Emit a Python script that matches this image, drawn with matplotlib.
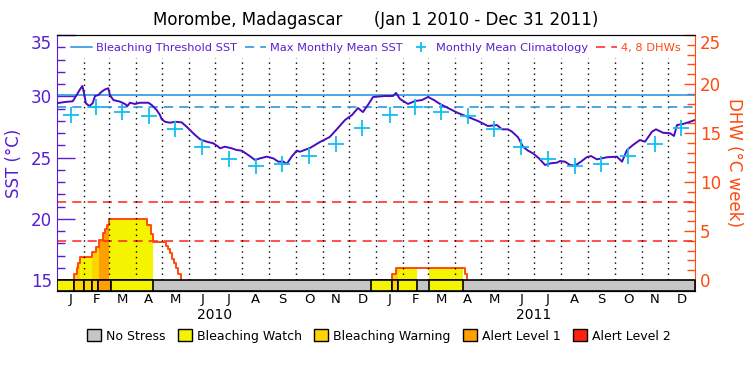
import numpy as np
import pandas as pd
import matplotlib
matplotlib.use('Agg')
import matplotlib.pyplot as plt
from matplotlib.patches import Patch
from matplotlib.transforms import blended_transform_factory

# Datos (dias desde el 1 de enero de 2010)
sst_puntos = [
    (0, 29.43), (3.4, 29.47), (9, 29.53), (18, 29.59), (22.5, 30.10), (26.3, 30.56),
    (29, 30.84), (31, 30.24), (33, 29.43), (37, 29.20), (40.8, 29.43), (43.5, 30.02),
    (47.3, 30.10), (51, 30.37), (55, 30.56), (58.7, 30.65), (60.6, 30.10), (64.5, 29.69),
    (72, 29.56), (77.8, 29.37), (80.5, 29.20), (83.5, 29.47), (89.2, 29.37), (95, 29.47),
    (104.5, 29.47), (108.3, 29.29), (114, 28.88), (117.8, 28.47), (119.8, 28.12),
    (123.6, 27.92), (129.3, 27.84), (135, 27.92), (142.6, 27.87), (148.4, 27.51),
    (154, 27.11), (158, 26.84), (163.6, 26.49), (171.3, 26.29), (178.8, 26.16),
    (184.6, 25.88), (186.5, 25.75), (192.2, 25.88), (199.9, 25.75), (205.6, 25.61),
    (211.3, 25.56), (218.9, 25.20), (226.5, 24.80), (232.3, 24.93), (240, 25.07),
    (247.5, 24.93), (253.2, 24.66), (259, 24.66), (262.8, 24.47), (268.5, 25.07),
    (274.3, 25.56), (278, 25.47), (289.5, 25.78), (301, 26.27), (312, 26.67),
    (321.5, 27.41), (329.5, 28.06), (337.5, 28.47), (344.4, 29.04), (350, 28.71),
    (355.8, 29.29), (361.6, 29.94), (375.3, 30.02), (384.4, 30.02), (387.9, 30.27),
    (392.4, 29.78), (401.6, 29.37), (409.6, 29.61), (417.6, 29.69), (424.5, 29.94),
    (431.4, 29.69), (438.2, 29.37), (447.4, 29.04), (458.8, 28.63), (470.3, 28.31),
    (481.7, 27.98), (493.1, 27.57), (503.4, 27.65), (509.2, 27.30), (516, 27.30),
    (520.6, 27.11), (527.5, 26.65), (533.2, 25.88), (538.9, 25.56), (544.6, 25.34),
    (551.5, 24.93), (558.4, 24.39), (565.2, 24.53), (572.1, 24.58), (575.5, 24.71),
    (581.2, 24.66), (587, 24.39), (592.7, 24.33), (599.5, 24.66), (606, 25.02),
    (611, 25.12), (617.8, 24.85), (629.3, 25.02), (640.7, 25.07), (646.5, 24.66),
    (652.2, 25.61), (659, 26.02), (667, 26.43), (672.8, 26.29), (680.8, 27.11),
    (685.4, 27.30), (693.4, 27.02), (701.4, 26.98), (706, 26.76), (709.4, 27.65),
    (716.2, 27.73), (724.3, 27.92), (730, 28.06),
]

clim_mensual = [28.47, 29.10, 28.71, 28.39, 27.30, 25.82, 24.85, 24.31, 24.44, 25.12, 26.10, 27.43]
mmm = 29.12
umbral = 30.12

# DHW por episodios (escalones) y nivel de estres del relleno
dhw_2010_dias = [19.8, 19.8, 22.5, 24.4, 26.7, 40.4, 45.0, 47.7, 52.2, 54.9, 57.2, 59.5, 103.0,
                 107.9, 109.8, 124.7, 127.4, 129.7, 132.0, 134.2, 136.5, 138.8, 141.5]
dhw_2010_val = [0, 0.61, 1.26, 1.73, 2.35, 2.83, 3.34, 4.05, 4.77, 5.17, 5.61, 6.19, 5.61,
                4.69, 3.88, 3.50, 3.13, 2.72, 2.11, 1.70, 1.19, 0.61, 0]
dhw_2010_nivel = [0, 2, 2, 2, 1, 2, 2, 3, 3, 3, 3, 1, 1, 1, 0, 0, 0, 0, 0, 0, 0, 0, 0]

dhw_2011_dias = [383.6, 383.6, 388.2, 390.5, 412.2, 425.6, 464.9, 466.8, 469.1]
dhw_2011_val = [0, 0.60, 1.19, 1.19, 1.19, 1.19, 1.19, 0.60, 0]
dhw_2011_nivel = [0, 2, 2, 1, 0, 1, 0, 0, 0]

# barra inferior de estres
banda_ini = [0, 19.8, 31.2, 40.4, 47.3, 61.8, 359.3, 383.6, 390.5, 425.6]
banda_fin = [19.8, 31.2, 40.4, 47.3, 61.8, 110.2, 383.6, 390.5, 412.2, 464.9]
banda_nivel = [1, 2, 2, 2, 3, 1, 1, 2, 1, 1]

letras_mes = ['J', 'F', 'M', 'A', 'M', 'J', 'J', 'A', 'S', 'O', 'N', 'D'] * 2
anios = ['2010', '2011']
nombres_nivel = ['No Stress', 'Bleaching Watch', 'Bleaching Warning', 'Alert Level 1', 'Alert Level 2']

colores = ['#c6c6c6', '#f4f400', '#ffd400', '#ff9f00', '#ff2010']
morado = '#5a1ed2'
linea_sst = '#4a0cc0'
azul = '#1a90e0'
cian = '#10c0f0'
naranja = '#ff4a10'
rojo = '#ff2020'

inicio = pd.Timestamp('2010-01-01')
meses = pd.date_range('2010-01-01', '2012-01-01', freq='MS')
dias_mes = np.array([(m - inicio).days for m in meses])
centro_mes = (dias_mes[:-1] + dias_mes[1:]) / 2

sst_x = np.array([p[0] for p in sst_puntos])
sst_y = np.array([p[1] for p in sst_puntos])

fig = plt.figure(figsize=(7.5, 3.75), dpi=100)
ax = fig.add_axes([57 / 750, 1 - 291 / 375, 638 / 750, 256 / 375])
ax2 = ax.twinx()
ax.set_zorder(ax2.get_zorder() + 1)
ax.patch.set_visible(False)

y_bajo = 15 - 11 / 12.25
d_bajo = -11 / 9.8
ax.set_xlim(0, 730)
ax.set_ylim(y_bajo, 35)
ax2.set_ylim(d_bajo, 25)

# relleno DHW por nivel
for dias, vals, nivel in [(dhw_2010_dias, dhw_2010_val, dhw_2010_nivel),
                          (dhw_2011_dias, dhw_2011_val, dhw_2011_nivel)]:
    for i in range(len(dias) - 1):
        if nivel[i] > 0:
            ax2.fill_between([dias[i], dias[i + 1]], 0, vals[i], step='post',
                             color=colores[nivel[i]], lw=0, zorder=1)
    ax2.step(dias, vals, where='post', color=naranja, lw=1.4, zorder=4)

l_dhw = ax2.axhline(4, color=rojo, ls=(0, (6, 4)), lw=1.1, zorder=3)
ax2.axhline(8, color=rojo, ls=(0, (6, 4)), lw=1.1, zorder=3)

# lineas de meses
ax.vlines(dias_mes[1:-1], 15, 35, colors='k', linestyles=(0, (1, 3)), lw=1, zorder=1)

l_umbral = ax.axhline(umbral, color=azul, lw=1.1, zorder=2)
l_mmm = ax.axhline(mmm, color=azul, ls=(0, (6, 4)), lw=1.1, zorder=2)
ax.plot(sst_x, sst_y, color=linea_sst, lw=1.4, zorder=3)
l_clim, = ax.plot(centro_mes, clim_mensual * 2, ls='none', marker='+', ms=11, mew=1.3,
                  color=cian, zorder=4)

# barra de estres
ax.broken_barh([(0, 730)], (y_bajo, 15 - y_bajo), facecolors=colores[0], edgecolors='k',
               lw=1.2, zorder=5)
ax.broken_barh([(a, b - a) for a, b in zip(banda_ini, banda_fin)], (y_bajo, 15 - y_bajo),
               facecolors=[colores[n] for n in banda_nivel], edgecolors='k', lw=1.2, zorder=6)

# ejes
ax.set_yticks([15, 20, 25, 30, 35])
ax.set_yticks(np.arange(16, 35), minor=True)
ax.tick_params(axis='y', which='both', direction='in', colors=morado, labelsize=12, width=1)
ax.tick_params(axis='y', which='major', length=13)
ax.tick_params(axis='y', which='minor', length=6)
ax.set_ylabel('SST (°C)', color=morado, fontsize=12, labelpad=6)
ax.set_xticks(centro_mes)
ax.set_xticklabels(letras_mes, fontsize=9.5)
ax.tick_params(axis='x', length=0, pad=1.5)
ax.spines['left'].set_color(morado)
ax.spines['right'].set_visible(False)
ax2.spines['left'].set_visible(False)
ax2.spines['right'].set_color(naranja)

ax2.set_yticks([0, 5, 10, 15, 20, 25])
ax2.set_yticks(np.arange(1, 25), minor=True)
ax2.tick_params(axis='y', which='both', direction='in', colors=naranja, labelsize=12, width=1)
ax2.tick_params(axis='y', which='major', length=8)
ax2.tick_params(axis='y', which='minor', length=6)
ax2.set_ylabel('DHW (°C week)', color=naranja, fontsize=12, rotation=270, labelpad=16)

ax.get_yticklabels()[-1].set_va('top')
ax2.get_yticklabels()[-1].set_va('top')

trans = blended_transform_factory(ax.transData, ax.transAxes)
for i, anio in enumerate(anios):
    ax.text(dias_mes[12 * i + 6] - 0.5, -0.092, anio, transform=trans, ha='center', va='center',
            fontsize=10)

leg = ax.legend([l_umbral, l_mmm, l_clim, l_dhw],
                ['Bleaching Threshold SST', 'Max Monthly Mean SST', 'Monthly Mean Climatology',
                 '4, 8 DHWs'],
                loc='upper center', bbox_to_anchor=(0.5, 1.0), ncol=4, fontsize=8.2,
                frameon=True, facecolor='white', edgecolor='none', framealpha=1,
                handlelength=1.8, handletextpad=0.4, columnspacing=0.7, borderaxespad=0.3,
                markerscale=0.7)
for t, c in zip(leg.get_texts(), [morado, morado, morado, naranja]):
    t.set_color(c)

fig.text(376 / 750, 1 - 20 / 375, 'Morombe, Madagascar      (Jan 1 2010 - Dec 31 2011)',
         ha='center', va='center', fontsize=12)

parches = [Patch(facecolor=c, edgecolor='k', lw=1) for c in colores]
fig.legend(parches, nombres_nivel, loc='center', bbox_to_anchor=(0.505, 1 - 336 / 375), ncol=5,
           frameon=False, fontsize=9, handlelength=1.1, handleheight=1.1, handletextpad=0.4,
           columnspacing=1.0)

fig.savefig('out.png', dpi=100)
